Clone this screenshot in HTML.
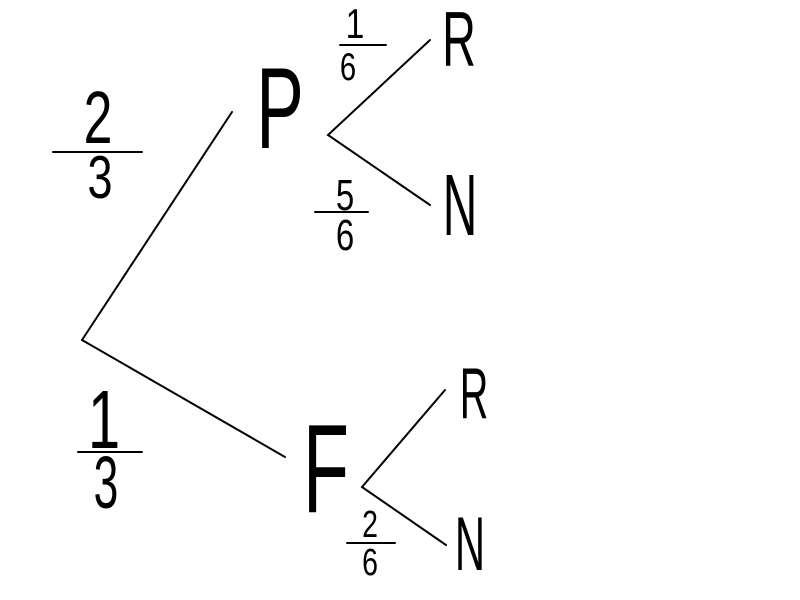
<!DOCTYPE html>
<html><head><meta charset="utf-8"><style>html,body{margin:0;padding:0;background:#fff;width:800px;height:600px;overflow:hidden}</style></head>
<body>
<svg width="800" height="600" viewBox="0 0 800 600" xmlns="http://www.w3.org/2000/svg">
<g stroke="#000" stroke-width="2" fill="none" stroke-linecap="round">
<line x1="232" y1="112" x2="82" y2="340"/>
<line x1="82" y1="340" x2="285" y2="457"/>
<polyline points="430,40 328,135 430,205"/>
<polyline points="445,390 362,487 446,545"/>
<line x1="53" y1="152" x2="142" y2="152"/>
<line x1="78" y1="452" x2="142" y2="452"/>
<line x1="340" y1="45" x2="386" y2="45"/>
<line x1="315" y1="212" x2="368" y2="212"/>
<line x1="347" y1="543" x2="395" y2="543"/>
</g>
<g font-family="Liberation Sans, sans-serif" fill="#000" text-anchor="middle">
<text transform="translate(280,148) scale(0.62,1)" font-size="115">P</text>
<text transform="translate(326,512) scale(0.6,1)" font-size="126">F</text>
<text transform="translate(459,66) scale(0.6,1)" font-size="78">R</text>
<text transform="translate(460,235) scale(0.55,1)" font-size="87">N</text>
<text transform="translate(474,418) scale(0.55,1)" font-size="72">R</text>
<text transform="translate(470,570) scale(0.55,1)" font-size="76">N</text>
<text transform="translate(98,143) scale(0.7,1)" font-size="74">2</text>
<text transform="translate(100,198) scale(0.75,1)" font-size="60">3</text>
<text transform="translate(104,448) scale(0.7,1)" font-size="83">1</text>
<text transform="translate(106,508) scale(0.6,1)" font-size="74">3</text>
<text transform="translate(355,38) scale(0.8,1)" font-size="42">1</text>
<text transform="translate(348,80) scale(0.75,1)" font-size="39">6</text>
<text transform="translate(345,210) scale(0.75,1)" font-size="44">5</text>
<text transform="translate(345,250) scale(0.75,1)" font-size="44">6</text>
<text transform="translate(370,537) scale(0.75,1)" font-size="38">2</text>
<text transform="translate(370,575) scale(0.75,1)" font-size="38">6</text>
</g>
</svg>
</body></html>
